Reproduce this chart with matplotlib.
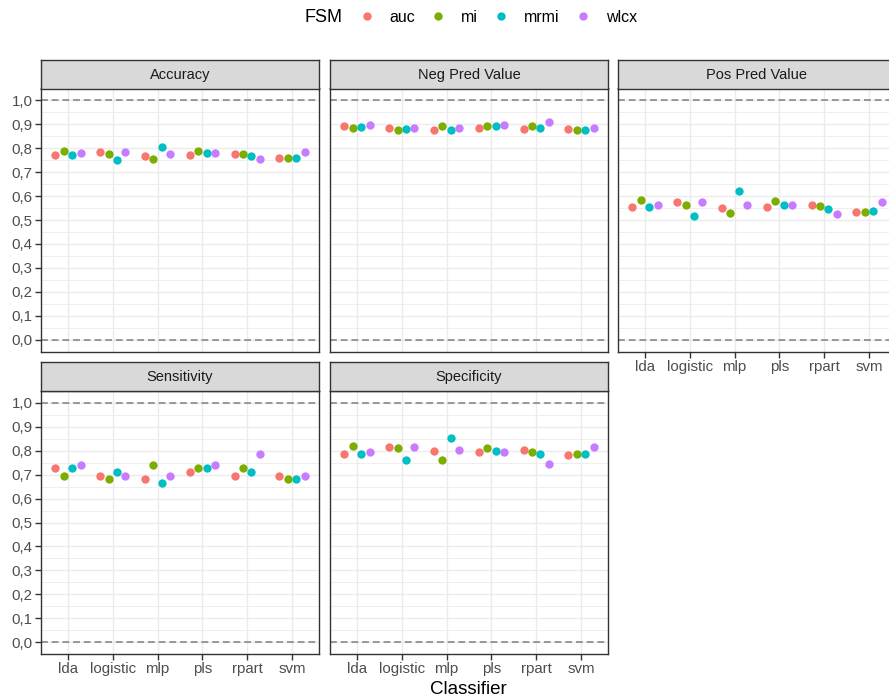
import numpy as np
import matplotlib
matplotlib.use("Agg")
import matplotlib.pyplot as plt
from matplotlib.lines import Line2D

plt.rcParams["font.family"] = ["Liberation Sans", "DejaVu Sans"]

W, H = 889, 700
DPI = 100

classifiers = ["lda", "logistic", "mlp", "pls", "rpart", "svm"]
fsm = ["auc", "mi", "mrmi", "wlcx"]
fsm_colors = ["#F8766D", "#7CAE00", "#00BFC4", "#C77CFF"]

# rows: classifier, cols: auc, mi, mrmi, wlcx
accuracy = [[0.772, 0.790, 0.772, 0.781],
            [0.786, 0.776, 0.750, 0.786],
            [0.769, 0.756, 0.804, 0.776],
            [0.772, 0.790, 0.781, 0.781],
            [0.778, 0.776, 0.769, 0.756],
            [0.761, 0.761, 0.761, 0.786]]
neg_pred = [[0.892, 0.883, 0.890, 0.897],
            [0.885, 0.878, 0.882, 0.883],
            [0.876, 0.893, 0.878, 0.883],
            [0.886, 0.893, 0.893, 0.897],
            [0.882, 0.892, 0.886, 0.910],
            [0.879, 0.875, 0.875, 0.885]]
pos_pred = [[0.553, 0.584, 0.553, 0.563],
            [0.575, 0.563, 0.518, 0.577],
            [0.550, 0.528, 0.620, 0.561],
            [0.553, 0.578, 0.564, 0.564],
            [0.561, 0.558, 0.547, 0.526],
            [0.535, 0.535, 0.536, 0.577]]
sensitivity = [[0.726, 0.696, 0.726, 0.742],
               [0.696, 0.682, 0.713, 0.696],
               [0.682, 0.742, 0.667, 0.696],
               [0.713, 0.726, 0.726, 0.742],
               [0.696, 0.726, 0.713, 0.788],
               [0.696, 0.682, 0.682, 0.696]]
specificity = [[0.788, 0.821, 0.788, 0.794],
               [0.815, 0.810, 0.761, 0.815],
               [0.799, 0.761, 0.854, 0.804],
               [0.793, 0.810, 0.799, 0.793],
               [0.804, 0.793, 0.788, 0.744],
               [0.782, 0.788, 0.788, 0.815]]

metrics = ["Accuracy", "Neg Pred Value", "Pos Pred Value", "Sensitivity", "Specificity"]
metric_data = [accuracy, neg_pred, pos_pred, sensitivity, specificity]
yticks = np.round(np.arange(0, 1.01, 0.1), 1)
yminor = np.round(np.arange(0.05, 1.0, 0.1), 2)

fig = plt.figure(figsize=(W / DPI, H / DPI), dpi=DPI)


def px_axes(x0, y0, x1, y1):
    # pixel box (top-left origin) -> figure axes
    return fig.add_axes([x0 / W, 1 - y1 / H, (x1 - x0) / W, (y1 - y0) / H])


col_x = [(41, 319), (330, 608), (618, 896)]
row_y = [(59.5, 88.5, 351.5), (362, 391, 654)]
dodge = np.array([-0.28125, -0.09375, 0.09375, 0.28125])
xpos = np.arange(len(classifiers))

for i, (name, data) in enumerate(zip(metrics, metric_data)):
    r, c = divmod(i, 3)
    x0, x1 = col_x[c]
    st, pt, pb = row_y[r]
    ax = px_axes(x0, pt, x1, pb)
    vals = np.array(data)
    for k in range(len(fsm)):
        ax.scatter(xpos + dodge[k], vals[:, k], s=36, color=fsm_colors[k],
                   linewidths=0, zorder=3)
    for yl in (0.0, 1.0):
        ax.axhline(yl, color="#7f7f7f", lw=1.1, ls=(0, (4.5, 2.5)), zorder=2)
    ax.set_xlim(-0.6, 5.6)
    ax.set_ylim(-0.05, 1.05)
    ax.set_xticks(xpos)
    ax.set_yticks(yticks)
    ax.set_yticks(yminor, minor=True)
    ax.grid(True, which="major", color="#EBEBEB", lw=1.0, zorder=0)
    ax.grid(True, which="minor", axis="y", color="#EBEBEB", lw=0.6, zorder=0)
    ax.set_axisbelow(True)
    for sp in ax.spines.values():
        sp.set_color("#333333")
        sp.set_linewidth(1.0)
    ax.tick_params(which="major", length=4, width=1, color="#333333",
                   labelsize=10.8, labelcolor="#4d4d4d", pad=2)
    ax.tick_params(which="minor", length=0)
    show_x = (r == 1) or (c == 2)
    if show_x:
        ax.set_xticklabels(classifiers)
    else:
        ax.set_xticklabels([])
        ax.tick_params(axis="x", length=0)
    if c == 0:
        ax.set_yticklabels([f"{v:.1f}".replace(".", ",") for v in yticks])
    else:
        ax.set_yticklabels([])
        ax.tick_params(axis="y", length=0)

    # strip
    sax = px_axes(x0, st, x1, pt)
    sax.set_facecolor("#D9D9D9")
    sax.set_xticks([])
    sax.set_yticks([])
    for sp in sax.spines.values():
        sp.set_color("#333333")
        sp.set_linewidth(1.0)
    sax.text(0.5, 0.47, name, ha="center", va="center", fontsize=10.5,
             color="#1a1a1a", transform=sax.transAxes)

fig.text(468 / W, 1 - 689 / H, "Classifier", ha="center", va="center", fontsize=13.5)

# legend
fig.text(305 / W, 1 - 17 / H, "FSM", ha="left", va="center", fontsize=13)
handles = [Line2D([], [], ls="none", marker="o", ms=6, mec="none", color=col)
           for col in fsm_colors]
fig.legend(handles, fsm, loc="center left", bbox_to_anchor=(357 / W, 1 - 17 / H),
           ncol=4, frameon=False, fontsize=11.5, handlelength=1.2,
           handletextpad=0.84, columnspacing=0.84, borderaxespad=0, borderpad=0)

fig.savefig("out.png", dpi=DPI)
